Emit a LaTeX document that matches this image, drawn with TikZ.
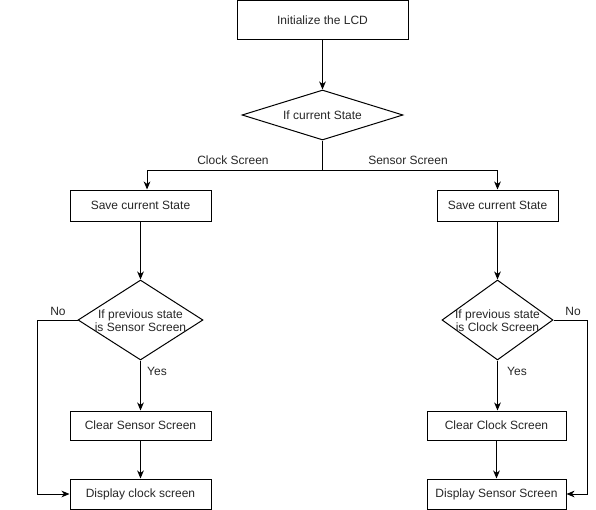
\documentclass[tikz,border=0pt]{standalone}
\usepackage{fontspec}
\setmainfont{Liberation Sans}
\usetikzlibrary{shapes.geometric,arrows.meta}
\begin{document}
\begin{tikzpicture}[x=0.75pt,y=-0.75pt,
  every node/.style={font=\fontsize{9pt}{9.8pt}\selectfont, text=black!85},
  box/.style={draw, line width=0.75pt, rectangle, inner sep=0pt, minimum height=23.25pt},
  dia/.style={draw, line width=0.75pt, diamond, inner sep=0pt},
  lbl/.style={inner sep=0pt},
  ln/.style={line width=0.75pt},
  arr/.style={line width=0.75pt, -{Stealth[length=6pt,width=5pt,inset=1.8pt]}}]
\useasboundingbox (0,0) rectangle (596,510);
\node[box, minimum width=128.25pt, minimum height=29.25pt] (init) at (322.5,20.5) {Initialize the LCD};
\node[dia, minimum width=120.75pt, minimum height=37.5pt] (d1) at (322.5,115) {};
\node[lbl] (d1t) at (d1) {If current State};
\coordinate (br) at (322.5,170);
\node[box, minimum width=105.75pt] (s1) at (140.5,205.5) {Save current State};
\node[box, minimum width=90.75pt] (s2) at (497.5,205.5) {Save current State};
\node[lbl] (lc) at (233,160) {Clock Screen};
\node[lbl] (ls) at (408,160) {Sensor Screen};
\node[dia, minimum width=93.75pt, minimum height=60pt] (d2) at (140.5,320) {};
\node[lbl, align=center] (d2t) at (140.5,321) {If previous state\\is Sensor Screen};
\node[dia, minimum width=83.25pt, minimum height=60pt] (d3) at (497.5,320) {};
\node[lbl, align=center] (d3t) at (497.5,321) {If previous state\\is Clock Screen};
\node[box, minimum width=105.75pt, minimum height=21.75pt] (c1) at (140.5,425.5) {Clear Sensor Screen};
\node[box, minimum width=104.25pt, minimum height=21.75pt] (c2) at (496.5,425.5) {Clear Clock Screen};
\node[box, minimum width=105.75pt, minimum height=22.5pt] (p1) at (140.5,494) {Display clock screen};
\node[box, minimum width=104.25pt, minimum height=22.5pt] (p2) at (496.5,494) {Display Sensor Screen};
\node[lbl] (y1) at (157,371) {Yes};
\node[lbl] (y2) at (517,371) {Yes};
\node[lbl] (n1) at (58,311) {No};
\node[lbl] (n2) at (573,311) {No};
\coordinate (nl) at (37,320);
\coordinate (nr) at (587,320);
\draw[arr] (init) -- (d1);
\draw[ln] (d1.south) -- (br);
\draw[arr] (br) -| ([xshift=4.9pt]s1.north);
\draw[arr] (br) -| (s2.north);
\draw[arr] (s1) -- (d2);
\draw[arr] (s2) -- (d3);
\draw[arr] (d2) -- (c1);
\draw[arr] (d3.south) -- (d3.south |- c2.north);
\draw[arr] (c1) -- (p1);
\draw[arr] (c2) -- (p2);
\draw[arr] (d2.west) -- (nl) |- (p1.west);
\draw[arr] (d3.east) -- (nr) |- (p2.east);
\end{tikzpicture}
\end{document}
